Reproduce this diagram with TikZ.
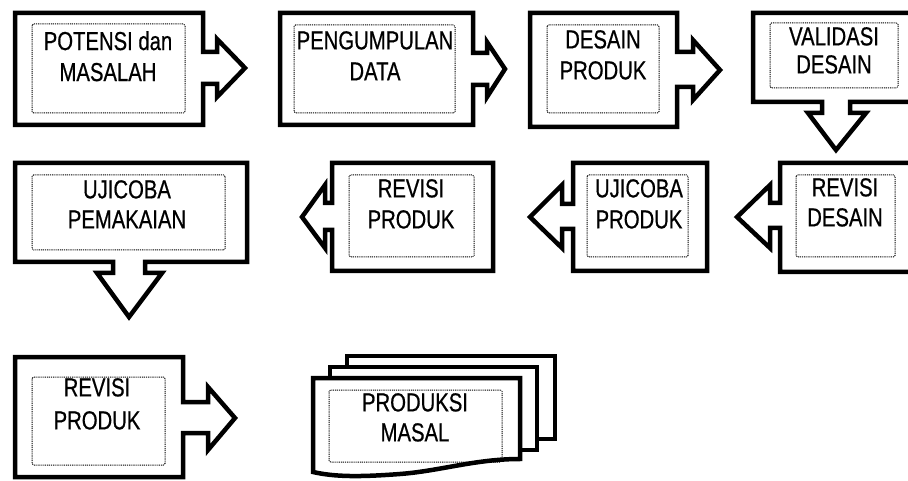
\documentclass[tikz,border=0pt]{standalone}
\usepackage{fontspec}
\newfontfamily\narrowfont[FakeStretch=0.78,FakeBold=0.6]{Liberation Sans}
\begin{document}
\begin{tikzpicture}[x=1pt,y=-1pt,
  shapeline/.style={draw=black,line width=4.5pt,fill=white,line join=miter},
  dotbox/.style={draw=black,line width=1pt,dash pattern=on 1pt off 0.9pt,rounded corners=1.5pt},
  steptext/.style={anchor=north,inner sep=0pt,align=center,font=\narrowfont\fontsize{26}{#1}\selectfont},
  steptext/.default=31]
\useasboundingbox (0,0) rectangle (908,481);
\clip (0,0) rectangle (908,481);

% 1 POTENSI dan MASALAH
\draw[shapeline] (15,13) -- (203,13) -- (203,52) -- (217,52) -- (217,39) -- (245,68) -- (217,97) -- (217,84) -- (203,84) -- (203,125) -- (15,125) -- cycle;
\draw[dotbox] (32,24) rectangle (185,113);
\node[steptext] (t1) at (108,31) {POTENSI dan\\MASALAH};

% 2 PENGUMPULAN DATA
\draw[shapeline] (280,13) -- (473,13) -- (473,53) -- (487,53) -- (487,42) -- (505,69) -- (487,97) -- (487,85) -- (473,85) -- (473,125) -- (280,125) -- cycle;
\draw[dotbox] (294,25) rectangle (455,113);
\node[steptext] (t2) at (375,31) {PENGUMPULAN\\DATA};

% 3 DESAIN PRODUK
\draw[shapeline] (530,13) -- (677,13) -- (677,52) -- (693,52) -- (693,40) -- (720,70) -- (693,100) -- (693,87) -- (677,87) -- (677,127) -- (530,127) -- cycle;
\draw[dotbox] (547,25) rectangle (659,113);
\node[steptext] (t3) at (603,30) {DESAIN\\PRODUK};

% 4 VALIDASI DESAIN
\draw[shapeline] (753,13) -- (920,13) -- (920,102) -- (850,102) -- (850,113) -- (866,113) -- (836,150) -- (808,113) -- (822,113) -- (822,102) -- (753,102) -- cycle;
\draw[dotbox] (770,23) rectangle (898,88);
\node[steptext=28] (t4) at (834,27) {VALIDASI\\DESAIN};

% 5 UJICOBA PEMAKAIAN
\draw[shapeline] (15,163) -- (247,163) -- (247,262) -- (145,262) -- (145,273) -- (162,273) -- (129,317) -- (97,273) -- (113,273) -- (113,262) -- (15,262) -- cycle;
\draw[dotbox] (32,175) rectangle (225,250);
\node[steptext=30] (t5) at (127,180) {UJICOBA\\PEMAKAIAN};

% 6 REVISI PRODUK
\draw[shapeline] (332,163) -- (493,163) -- (493,271) -- (332,271) -- (332,230) -- (325,230) -- (325,248) -- (302,217) -- (325,185) -- (325,203) -- (332,203) -- cycle;
\draw[dotbox] (349,175) rectangle (474,257);
\node[steptext] (t6) at (411,179) {REVISI\\PRODUK};

% 7 UJICOBA PRODUK
\draw[shapeline] (573,163) -- (707,163) -- (707,271) -- (573,271) -- (573,229) -- (562,229) -- (562,248) -- (530,217) -- (562,185) -- (562,204) -- (573,204) -- cycle;
\draw[dotbox] (587,175) rectangle (688,257);
\node[steptext] (t7) at (639,179) {UJICOBA\\PRODUK};

% 8 REVISI DESAIN
\draw[shapeline] (780,163) -- (920,163) -- (920,272) -- (780,272) -- (780,228) -- (770,228) -- (770,248) -- (737,217) -- (770,185) -- (770,203) -- (780,203) -- cycle;
\draw[dotbox] (796,175) rectangle (895,257);
\node[steptext=30] (t8) at (845,178) {REVISI\\DESAIN};

% 9 REVISI PRODUK
\draw[shapeline] (15,357) -- (183,357) -- (183,402) -- (208,402) -- (208,387) -- (235,418) -- (208,450) -- (208,433) -- (183,433) -- (183,477) -- (15,477) -- cycle;
\draw[dotbox] (32,377) rectangle (165,465);
\node[steptext=33] (t9) at (97,378) {REVISI\\PRODUK};

% 10 PRODUKSI MASAL (multi-document)
\draw[shapeline] (347,356) -- (555,356) -- (555,439) -- (347,439) -- cycle;
\draw[shapeline] (330,367) -- (537,367) -- (537,450) -- (330,450) -- cycle;
\draw[shapeline] (313,378) -- (520,378) -- (520,459) .. controls (475,459) and (440,471) .. (400,474) .. controls (360,477) and (335,477) .. (313,472) -- cycle;
\draw[dotbox] (329,390) rectangle (502,462);
\node[steptext=30] (t10) at (415,393) {PRODUKSI\\MASAL};
\end{tikzpicture}
\end{document}
